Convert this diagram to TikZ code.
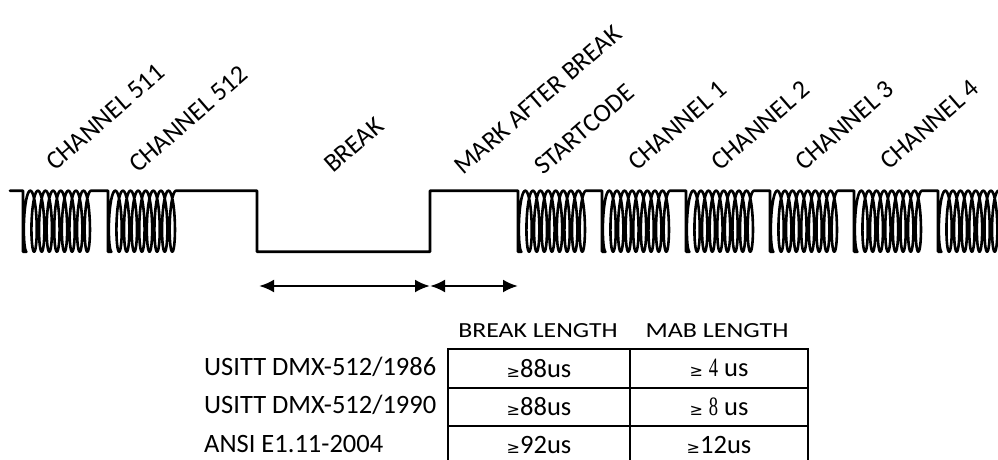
\documentclass[tikz,border=0pt]{standalone}
\usepackage{fontspec}
\setmainfont{Carlito}
\newfontfamily\symfont{DejaVu Sans}
\newfontfamily\narrowserif{Liberation Serif}
\usetikzlibrary{arrows.meta}
\newcommand\geqsym{{\symfont\fontsize{16}{16}\selectfont ≥}}
\newcommand\nardig[1]{\scalebox{0.7}[1]{\narrowserif #1}}
\begin{document}
\begin{tikzpicture}[x=1pt,y=-1pt,
  wave/.style={line width=2.6pt,line join=round,line cap=round},
  coilat/.style={insert path={-- (#1,251.7) -- plot[domain=0:3060,samples=433,variable=\t]
      ({#1+3.5+(\t/360)*7.6-4.4*sin(\t)},{221.2+30.5*cos(\t)})}},
  lab/.style={anchor=base west,rotate=41,inner sep=0pt,font=\fontsize{26}{31}\selectfont},
  hdr/.style={anchor=base,inner sep=0pt,font=\fontsize{21.5}{26}\selectfont},
  rowlab/.style={anchor=base west,inner sep=0pt,font=\fontsize{26.5}{31}\selectfont},
  cell/.style={draw,line width=2pt,minimum width=#1,minimum height=38.5pt,inner sep=0pt,
      font=\fontsize{26.5}{31}\selectfont},
  dim/.style={line width=2.6pt,{Latex[length=15pt,width=13pt]}-{Latex[length=15pt,width=13pt]}}
]
\useasboundingbox (0,0) rectangle (998,459);
\clip (0,0) rectangle (998,459);
% waveform
\draw[wave] (10,190.7) -- (23,190.7) [coilat=23] -- (108,190.7) [coilat=108]
  -- (257,190.7) -- (257,251.7) -- (430,251.7) -- (430,190.7) -- (518,190.7)
  [coilat=518] -- (602,190.7) [coilat=602] -- (686,190.7) [coilat=686]
  -- (770,190.7) [coilat=770] -- (854,190.7) [coilat=854] -- (938,190.7) [coilat=938];
% labels
\node[lab] (l511) at (55,172) {CHANNEL 511};
\node[lab] (l512) at (138,174) {CHANNEL 512};
\node[lab] (lbrk) at (333,174) {BREAK};
\node[lab] (lmab) at (463,176) {MARK AFTER BREAK};
\node[lab] (lsc) at (543,176) {STARTCODE};
\node[lab] (lc1) at (637,172) {CHANNEL 1};
\node[lab] (lc2) at (720,172) {CHANNEL 2};
\node[lab] (lc3) at (804,172) {CHANNEL 3};
\node[lab] (lc4) at (889,171) {CHANNEL 4};
% dimension arrows
\coordinate (a1) at (259,286);
\coordinate (a2) at (430,286);
\coordinate (a3) at (518,286);
\draw[dim] (a1) -- (a2);
\draw[dim] (a2) -- (a3);
% table
\node[hdr] (hb) at (538,337) {\scalebox{1.2}[1]{BREAK LENGTH}};
\node[hdr] (hm) at (717,337) {\scalebox{1.21}[1]{MAB LENGTH}};
\node[rowlab] (r1) at (204,375) {USITT DMX-512/1986};
\node[rowlab] (r2) at (204,413.5) {USITT DMX-512/1990};
\node[rowlab] (r3) at (204,452) {ANSI E1.11-2004};
\node[cell=182pt] (c11) at (539,368.25) {\geqsym88us};
\node[cell=178pt] (c12) at (719,368.25) {\geqsym\ \nardig{4} us};
\node[cell=182pt] (c21) at (539,406.75) {\geqsym88us};
\node[cell=178pt] (c22) at (719,406.75) {\geqsym\ \nardig{8} us};
\node[cell=182pt] (c31) at (539,445.25) {\geqsym92us};
\node[cell=178pt] (c32) at (719,445.25) {\geqsym12us};
\end{tikzpicture}
\end{document}
